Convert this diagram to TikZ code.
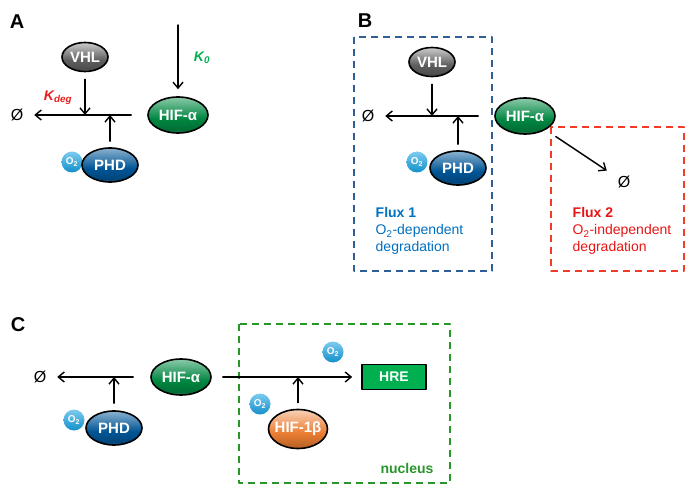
\documentclass[tikz,border=0pt]{standalone}
\usepackage{fontspec}
\setmainfont{Liberation Sans}
\usepackage{tikz}
\usetikzlibrary{arrows.meta, shapes.geometric, positioning}
\usepackage{xcolor}
\definecolor{hifgreen}{RGB}{0, 135, 65}
\definecolor{phdblue}{RGB}{0, 85, 150}
\definecolor{vhlgray}{RGB}{95, 95, 95}
\definecolor{hifborange}{RGB}{235, 125, 50}
\definecolor{oxyblue}{RGB}{20, 160, 225}
\definecolor{hregreen}{RGB}{0, 176, 80}
\definecolor{boxblue}{RGB}{46, 95, 150}
\definecolor{boxred}{RGB}{240, 60, 40}
\definecolor{boxgreen}{RGB}{40, 150, 40}
\definecolor{fluxblue}{RGB}{0, 112, 192}
\definecolor{fluxred}{RGB}{230, 20, 20}
\definecolor{kgreen}{RGB}{0, 176, 80}
\definecolor{kred}{RGB}{235, 30, 30}

% glossy look of the protein ellipses
\colorlet{glosstop}{white}
\colorlet{glossmid}{gray}
\colorlet{glossbot}{lightgray}
\pgfdeclareverticalshading[glosstop,glossmid,glossbot]{gloss}{100bp}{color(0bp)=(glossbot); color(25bp)=(glossbot); color(28bp)=(glossmid!80!black); color(45bp)=(glossmid); color(75bp)=(glosstop); color(100bp)=(glosstop)}

\tikzset{
	glossy/.style n args={3}{/utils/exec={\colorlet{glosstop}{#1}\colorlet{glossmid}{#2}\colorlet{glossbot}{#3}}, shading=gloss},
	protein/.style={ellipse, draw=black, line width=1.6pt, inner xsep=-6pt, inner ysep=0pt, text=white, font=\bfseries\fontsize{15}{15}\selectfont},
	vhl/.style={protein, minimum width=46pt, minimum height=29pt, glossy={black!20}{vhlgray}{black!30}},
	phd/.style={protein, minimum width=56pt, minimum height=34pt, glossy={phdblue!45!white}{phdblue}{black!30}},
	hif/.style={protein, minimum width=60pt, minimum height=36pt, glossy={hifgreen!45!white}{hifgreen}{black!30}},
	hifb/.style={protein, minimum width=59pt, minimum height=39pt, glossy={hifborange!35!white}{hifborange}{hifborange!80!black}},
	oxy/.style={circle, minimum size=21pt, inner sep=0pt, top color=oxyblue!55!white, bottom color=oxyblue!90!black, text=white, font=\bfseries\fontsize{10}{10}\selectfont},
	hre/.style={rectangle, draw=black, line width=1.6pt, fill=hregreen, minimum width=64pt, minimum height=25pt, text=white, font=\bfseries\fontsize{14}{14}\selectfont},
	panel/.style={font=\bfseries\fontsize{20}{20}\selectfont},
	nullset/.style={font=\fontsize{16}{16}\selectfont, inner sep=1pt, outer sep=10pt},
	klabel/.style={font=\bfseries\itshape\fontsize{14}{14}\selectfont},
	fluxtext/.style={anchor=north west, align=left, inner sep=0pt, font=\fontsize{14}{17}\selectfont},
	dashbox/.style={line width=1.8pt, dash pattern=on 7pt off 5pt, line cap=butt}
}

\begin{document}
\begin{tikzpicture}[x=1pt, y=-1pt, line cap=round, line join=round, line width=1.4pt, >={Straight Barb[length=6pt,width=10pt]}]
	\useasboundingbox (0,0) rectangle (685,486);

	% panel A
	\node[panel] (labA) at (17,22) {A};
	\node[oxy] (oxyA) at (72,162) {O\textsubscript{2}};
	\node[phd] (phdA) at (110,165) {PHD};
	\node[vhl] (vhlA) at (85,57) {VHL};
	\node[hif] (hifA) at (178,115) {HIF-α};
	\node[nullset] (nullA) at (17,115) {Ø};
	\coordinate (kinA) at (178,25);
	\draw[->, shorten <=16pt] (hifA.west) -- (nullA);
	\draw[->, shorten <=7pt] (vhlA) -- (vhlA |- hifA);
	\draw[->, shorten <=6pt] (phdA) -- (phdA |- hifA);
	\draw[->, shorten >=7pt] (kinA) -- (hifA);
	\node[klabel, text=kred] (kdeg) at (58,98) {K\textsubscript{deg}};
	\node[klabel, text=kgreen] (kzero) at (202,58) {K\textsubscript{0}};

	% panel B
	\node[panel] (labB) at (365,21) {B};
	\draw[dashbox, boxblue] (354,37) rectangle (492,271);
	\draw[dashbox, boxred] (551,127) rectangle (684,271);
	\node[oxy] (oxyB) at (417,162) {O\textsubscript{2}};
	\node[phd] (phdB) at (458,168) {PHD};
	\node[vhl] (vhlB) at (432,62) {VHL};
	\node[hif] (hifB) at (525,116) {HIF-α};
	\node[nullset] (nullBone) at (368,116) {Ø};
	\node[nullset] (nullBtwo) at (624,182) {Ø};
	\draw[->, shorten <=16pt] (hifB.west) -- (nullBone);
	\draw[->, shorten <=7pt] (vhlB) -- (vhlB |- hifB);
	\draw[->, shorten <=6pt] (phdB) -- (phdB |- hifB);
	\draw[->, shorten <=12pt] (hifB) -- (nullBtwo);
	\node[fluxtext, text=fluxblue] (fluxone) at (375,207) {\textbf{Flux 1}\\O\textsubscript{2}-dependent\\degradation};
	\node[fluxtext, text=fluxred] (fluxtwo) at (572,207) {\textbf{Flux 2}\\O\textsubscript{2}-independent\\degradation};

	% panel C
	\node[panel] (labC) at (18,325) {C};
	\draw[dashbox, boxgreen] (239,324) rectangle (450,483);
	\node[oxy] (oxyC) at (74,420) {O\textsubscript{2}};
	\node[phd] (phdC) at (114,428) {PHD};
	\node[hif] (hifC) at (181,377) {HIF-α};
	\node[nullset] (nullC) at (40,377) {Ø};
	\node[hre] (hreC) at (394,377) {HRE};
	\node[oxy] (oxyCtop) at (333,352) {O\textsubscript{2}};
	\node[oxy] (oxyCleft) at (260,404) {O\textsubscript{2}};
	\node[hifb] (hifbC) at (298,429) {HIF-1β};
	\draw[->, shorten <=17pt] (hifC.west) -- (nullC);
	\draw[->, shorten <=7pt] (phdC) -- (phdC |- hifC);
	\draw[->, shorten <=11pt, shorten >=9pt] (hifC) -- (hreC);
	\draw[->, shorten <=6pt] (hifbC) -- (hifbC |- hifC);
	\node[font=\bfseries\fontsize{14}{14}\selectfont, text=boxgreen] (nucleus) at (407,468) {nucleus};

\end{tikzpicture}
\end{document}
